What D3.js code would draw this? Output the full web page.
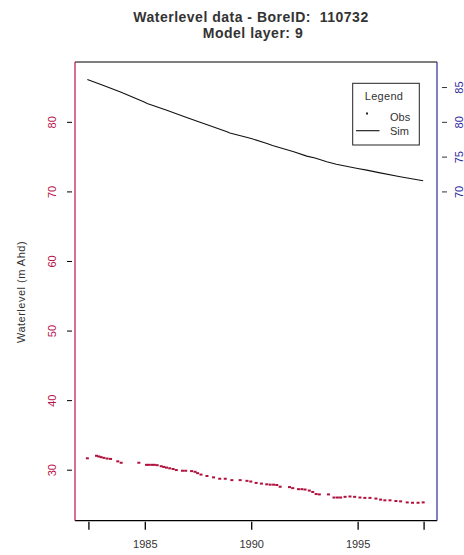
<!DOCTYPE html>
<html><head><meta charset="utf-8">
<script src="https://cdn.jsdelivr.net/npm/d3@7"></script>
<style>body{margin:0;background:#fff}svg{display:block}text{font-family:"Liberation Sans",Arial,sans-serif}</style>
</head><body><svg id="c" width="464" height="555"></svg>
<script>
const title1 = "Waterlevel data - BoreID:  110732";
const title2 = "Model layer: 9";
const yLabel = "Waterlevel (m Ahd)";
const xTickYears = [1982.35, 1985, 1990, 1995, 1998.1];
const xTickLabels = ["", "1985", "1990", "1995", ""];
const leftTicks = [30, 40, 50, 60, 70, 80];
const rightTicks = [70, 75, 80, 85];
const simYears = [1982.3, 1983, 1983.86, 1984, 1985, 1985.11, 1986, 1987, 1987.53, 1988, 1988.86, 1989, 1990, 1990.74, 1991, 1992, 1992.61, 1993, 1993.55, 1994, 1995, 1995.43, 1996, 1997, 1998.08];
const simValues = [86.1, 85.3, 84.3, 84.1, 82.8, 82.64, 81.7, 80.6, 80.0, 79.5, 78.56, 78.4, 77.6, 76.9, 76.6, 75.7, 75.07, 74.8, 74.25, 73.9, 73.3, 73.06, 72.7, 72.1, 71.52];
const obsYears = [1982.30,1982.73,1982.84,1982.95,1983.08,1983.23,1983.39,1983.73,1983.89,1984.72,1985.08,1985.2,1985.33,1985.45,1985.58,1985.77,1985.89,1986.02,1986.17,1986.33,1986.48,1986.77,1986.92,1987.2,1987.36,1987.48,1987.64,1987.92,1988.23,1988.52,1988.78,1989.09,1989.48,1989.8,1989.98,1990.23,1990.48,1990.73,1990.89,1991.05,1991.2,1991.36,1991.8,1991.95,1992.22,1992.38,1992.53,1992.73,1992.89,1993.05,1993.2,1993.63,1993.89,1994.05,1994.2,1994.41,1994.64,1994.86,1995.11,1995.34,1995.58,1995.86,1996.08,1996.28,1996.52,1996.8,1997.02,1997.33,1997.58,1997.84,1998.08];
const obsValues = [31.64,32.0,31.9,31.8,31.7,31.6,31.55,31.2,31.0,31.0,30.7,30.7,30.7,30.7,30.65,30.5,30.4,30.3,30.2,30.1,29.95,29.85,29.85,29.8,29.7,29.5,29.3,29.1,28.9,28.7,28.7,28.5,28.5,28.4,28.3,28.1,28.0,27.9,27.85,27.85,27.8,27.55,27.5,27.35,27.2,27.2,27.15,27.0,26.8,26.5,26.45,26.45,26.0,26.0,26.0,26.1,26.15,26.1,26.0,25.95,25.95,25.85,25.7,25.6,25.6,25.5,25.45,25.3,25.25,25.25,25.3];

const L = 75, R = 437, T = 62, B = 520.7;
const red = "#b8124a", blue = "#2a2a9a", obsCol = "#b0103c";
const svg = d3.select("#c");
const x = d3.scaleLinear().domain([1981.72, 1998.73]).range([L, R]);
const y = d3.scaleLinear().domain([22.67, 88.6]).range([B, T]);

// frame
svg.append("line").attr("x1", L).attr("x2", R).attr("y1", T).attr("y2", T).attr("stroke", "#000").attr("stroke-width", 1.2);
svg.append("line").attr("x1", L).attr("x2", R).attr("y1", B).attr("y2", B).attr("stroke", "#000").attr("stroke-width", 1.2);
svg.append("line").attr("x1", L).attr("x2", L).attr("y1", T).attr("y2", B).attr("stroke", red).attr("stroke-width", 1.2);
svg.append("line").attr("x1", R).attr("x2", R).attr("y1", T).attr("y2", B).attr("stroke", blue).attr("stroke-width", 1.2);

// x axis
const xa = svg.append("g").attr("transform", `translate(0,${B + 1})`)
  .call(d3.axisBottom(x).tickValues(xTickYears).tickSize(8).tickPadding(11)
    .tickFormat((d, i) => xTickLabels[i]));
xa.select(".domain").remove();
xa.selectAll("line").attr("stroke", "#000").attr("stroke-width", 1.3);
xa.selectAll("text").attr("font-size", 11).attr("fill", "#333");

// left axis
const la = svg.append("g").attr("transform", `translate(${L - 3},0)`)
  .call(d3.axisLeft(y).tickValues(leftTicks).tickSize(5).tickFormat(d3.format("d")));
la.select(".domain").remove();
la.selectAll("line").attr("stroke", "#000");
la.selectAll(".tick text").attr("font-size", 11).attr("fill", red)
  .attr("text-anchor", "middle").attr("x", 0).attr("dy", 0).attr("y", 4)
  .attr("transform", "translate(-20,0) rotate(-90)");

// right axis
const ra = svg.append("g").attr("transform", `translate(${R + 5},0)`)
  .call(d3.axisRight(y).tickValues(rightTicks).tickSize(5).tickFormat(d3.format("d")));
ra.select(".domain").remove();
ra.selectAll("line").attr("stroke", "#333");
ra.selectAll(".tick text").attr("font-size", 11).attr("fill", blue)
  .attr("text-anchor", "middle").attr("x", 0).attr("dy", 0).attr("y", 4)
  .attr("transform", "translate(17,0) rotate(-90)");

// y label
svg.append("text").attr("transform", `translate(25,292) rotate(-90)`)
  .attr("text-anchor", "middle").attr("font-size", 11).attr("letter-spacing", 0.5)
  .attr("fill", "#333").text(yLabel);

// titles
svg.append("text").attr("x", 251).attr("y", 22).attr("text-anchor", "middle").style("white-space", "pre")
  .attr("font-size", 14).attr("font-weight", "bold").attr("letter-spacing", 0.5).attr("fill", "#333").text(title1);
svg.append("text").attr("x", 253).attr("y", 38).attr("text-anchor", "middle").style("white-space", "pre")
  .attr("font-size", 14).attr("font-weight", "bold").attr("letter-spacing", 0.5).attr("fill", "#333").text(title2);

// sim line
const sim = simYears.map((d, i) => [d, simValues[i]]);
svg.append("path").datum(sim).attr("fill", "none").attr("stroke", "#111").attr("stroke-width", 1.1)
  .attr("d", d3.line().x(d => x(d[0])).y(d => y(d[1])));

// obs points
const obs = obsYears.map((d, i) => [d, obsValues[i]]);
svg.append("g").selectAll("rect").data(obs).join("rect")
  .attr("x", d => x(d[0]) - 1.5).attr("y", d => y(d[1]) - 1).attr("width", 3).attr("height", 2)
  .attr("fill", obsCol);

// legend
const lg = svg.append("g");
lg.append("rect").attr("x", 352.7).attr("y", 83.3).attr("width", 66.6).attr("height", 61.7)
  .attr("fill", "#fff").attr("stroke", "#222").attr("stroke-width", 1);
lg.append("text").attr("x", 384).attr("y", 100).attr("text-anchor", "middle").attr("font-size", 11).attr("letter-spacing", 0.3).attr("fill", "#333").text("Legend");
lg.append("rect").attr("x", 366).attr("y", 112.5).attr("width", 2).attr("height", 2).attr("fill", "#222");
lg.append("text").attr("x", 390).attr("y", 121).attr("font-size", 11).attr("fill", "#333").text("Obs");
lg.append("line").attr("x1", 356).attr("x2", 379.5).attr("y1", 130.7).attr("y2", 130.7).attr("stroke", "#111").attr("stroke-width", 1.1);
lg.append("text").attr("x", 390).attr("y", 135).attr("font-size", 11).attr("fill", "#333").text("Sim");
</script></body></html>
